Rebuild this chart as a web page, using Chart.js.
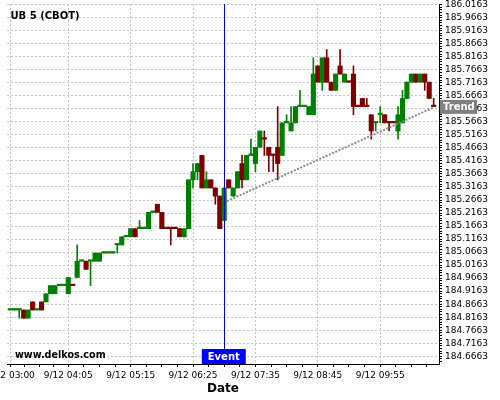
<!DOCTYPE html>
<html>
<head>
<meta charset="utf-8">
<script src="https://cdn.jsdelivr.net/npm/chart.js@4.4.1/dist/chart.umd.min.js"></script>
<style>
  html, body { margin: 0; padding: 0; background: #fff; }
  canvas { display: block; }
</style>
</head>
<body>
<canvas id="chart" width="500" height="400"></canvas>
<script>
// 5 minute bars of UB, bar number counted from 9/12 03:00
const openPrices = [
  184.8438, 184.8438, 184.8438, 184.8438, 184.8125, 184.875, 184.8438, 184.875, 184.875, 184.9063, 184.9063, 184.9375,
  184.9375, 184.9063, 184.9375, 184.9688, 185.0313, 185.0313, 185.0313, 185.0313, 185.0313, 185.0625, 185.0625, 185.0625,
  185.0938, 185.0938, 185.125, 185.125, 185.1563, 185.1563, 185.1563, 185.1563, 185.2188, 185.25, 185.2188, 185.1563,
  185.1563, 185.1563, 185.1563, 185.125, 185.1563, 185.3438, 185.375, 185.4375, 185.3125, 185.3438, 185.3125, 185.2813,
  185.1875, 185.3438, 185.2813, 185.3125, 185.4063, 185.3438, 185.4375, 185.4063, 185.4688, 185.5, 185.4688, 185.4375,
  185.4688, 185.4375, 185.5625, 185.5313, 185.5625, 185.625, 185.625, 185.5938, 185.5938, 185.7813, 185.7188, 185.8125,
  185.7188, 185.6875, 185.7813, 185.7188, 185.7188, 185.75, 185.625, 185.6563, 185.625, 185.5938, 185.5625, 185.5938,
  185.5938, 185.5625, 185.5625, 185.5313, 185.5625, 185.6563, 185.7188, 185.75, 185.7188, 185.75, 185.7188, 185.625
];
const highPrices = [
  184.8438, 184.8438, 184.8438, 184.8438, 184.8438, 184.875, 184.8438, 184.875, 184.9063, 184.9375, 184.9375, 184.9375,
  184.9375, 184.9688, 184.9375, 185.0938, 185.0313, 185.0313, 185.0313, 185.0625, 185.0625, 185.0625, 185.0625, 185.0625,
  185.0938, 185.125, 185.125, 185.1563, 185.1563, 185.1875, 185.1563, 185.2188, 185.2188, 185.25, 185.2188, 185.1563,
  185.1563, 185.1563, 185.1563, 185.1563, 185.3438, 185.4063, 185.4063, 185.4375, 185.375, 185.3438, 185.3125, 185.2813,
  185.3125, 185.3438, 185.3125, 185.375, 185.4375, 185.4375, 185.5, 185.4688, 185.5313, 185.5313, 185.4688, 185.4375,
  185.625, 185.5625, 185.5938, 185.625, 185.625, 185.6875, 185.625, 185.625, 185.8125, 185.7813, 185.8125, 185.8438,
  185.7188, 185.75, 185.8438, 185.75, 185.7188, 185.7813, 185.625, 185.6563, 185.6563, 185.5938, 185.5625, 185.625,
  185.5938, 185.5625, 185.5625, 185.625, 185.6875, 185.7188, 185.75, 185.75, 185.75, 185.75, 185.7188, 185.6563
];
const lowPrices = [
  184.8438, 184.8438, 184.8125, 184.8125, 184.8125, 184.8438, 184.8438, 184.8438, 184.875, 184.9063, 184.9063, 184.9375,
  184.9375, 184.9063, 184.9375, 184.9688, 185.0313, 185.0, 184.9375, 185.0313, 185.0313, 185.0625, 185.0625, 185.0625,
  185.0625, 185.0938, 185.125, 185.125, 185.125, 185.1563, 185.1563, 185.1563, 185.2188, 185.2188, 185.1563, 185.1563,
  185.0938, 185.1563, 185.125, 185.125, 185.1563, 185.3125, 185.3438, 185.3125, 185.3125, 185.3125, 185.25, 185.1563,
  185.1875, 185.3125, 185.2813, 185.3125, 185.3125, 185.3438, 185.4375, 185.375, 185.4688, 185.4375, 185.375, 185.375,
  185.3438, 185.4375, 185.5625, 185.5313, 185.5625, 185.625, 185.625, 185.5938, 185.5938, 185.7188, 185.6875, 185.7188,
  185.6875, 185.6875, 185.75, 185.7188, 185.7188, 185.5938, 185.625, 185.625, 185.625, 185.5, 185.5313, 185.5625,
  185.5625, 185.5313, 185.5625, 185.5, 185.5625, 185.6563, 185.7188, 185.7188, 185.7188, 185.6875, 185.6563, 185.625
];
const closePrices = [
  184.8438, 184.8438, 184.8438, 184.8125, 184.8438, 184.8438, 184.8438, 184.8438, 184.9063, 184.9375, 184.9375, 184.9375,
  184.9375, 184.9688, 184.9375, 185.0313, 185.0313, 185.0, 185.0313, 185.0625, 185.0625, 185.0625, 185.0625, 185.0625,
  185.0938, 185.125, 185.125, 185.1563, 185.125, 185.1563, 185.1563, 185.2188, 185.2188, 185.2188, 185.1563, 185.1563,
  185.1563, 185.1563, 185.125, 185.1563, 185.3438, 185.375, 185.4063, 185.3125, 185.3438, 185.3125, 185.2813, 185.1563,
  185.3125, 185.3125, 185.3125, 185.375, 185.3438, 185.4375, 185.4375, 185.4688, 185.5313, 185.5, 185.4375, 185.4375,
  185.4063, 185.5625, 185.5625, 185.5625, 185.625, 185.625, 185.625, 185.625, 185.75, 185.7188, 185.8125, 185.7188,
  185.6875, 185.75, 185.75, 185.75, 185.7188, 185.625, 185.625, 185.625, 185.625, 185.5313, 185.5625, 185.5938,
  185.5625, 185.5625, 185.5625, 185.5938, 185.6563, 185.7188, 185.75, 185.7188, 185.75, 185.7188, 185.6563, 185.625
];
// bars with open == close that are painted red
const flatDownBars = [14, 35, 36, 37, 57, 59, 76, 78, 80, 85, 86, 95];

const xTickPos = [0, 13, 27, 41, 55, 69, 83];
const xTickLabels = ['9/12 03:00', '9/12 04:05', '9/12 05:15', '9/12 06:25', '9/12 07:35', '9/12 08:45', '9/12 09:55'];
const yTickLabels = [
  '184.6663', '184.7163', '184.7663', '184.8163', '184.8663', '184.9163', '184.9663', '185.0163', '185.0663', '185.1163',
  '185.1663', '185.2163', '185.2663', '185.3163', '185.3663', '185.4163', '185.4663', '185.5163', '185.5663', '185.6163',
  '185.6663', '185.7163', '185.7663', '185.8163', '185.8663', '185.9163', '185.9663', '186.0163'
];

const eventBar = 47.9;
const trendLine = [{ x: 48.6, y: 185.262 }, { x: 95, y: 185.622 }];

const X_MIN = -0.75, X_MAX = 96.2;
const Y_MIN = 184.6365, Y_MAX = 186.019;
const GREEN = '#008000';
const RED = '#800000';
const GRID = '#c4c4c4';
const FONT = 'DejaVu Sans';

const barColors = openPrices.map((o, i) => {
	if (closePrices[i] > o) return GREEN;
	if (closePrices[i] < o) return RED;
	return flatDownBars.includes(i) ? RED : GREEN;
});

// major ticks carry a label, minor ones split each gap in four
const xTicks = [];
xTickPos.forEach((p, k) => {
	xTicks.push({ value: p, lbl: xTickLabels[k] });
	const next = k < xTickPos.length - 1 ? xTickPos[k + 1] : p + 14;
	const step = (next - p) / 4;
	for (let m = 1; m < 4; m++) {
		if (p + step * m <= X_MAX) xTicks.push({ value: p + step * m, lbl: '' });
	}
});

const yTicks = [];
const yBase = parseFloat(yTickLabels[0]);
for (let k = -2; k <= (yTickLabels.length - 1) * 5; k++) {
	const v = yBase + k * 0.01;
	if (v < Y_MIN || v > Y_MAX) continue;
	yTicks.push({ value: v, lbl: k % 5 === 0 ? yTickLabels[k / 5] : '' });
}

const gridColor = c => (c.tick && c.tick.lbl ? GRID : 'rgba(0,0,0,0)');

// labels are allowed to run off the canvas, like in the original
const noLabelPadding = s => {
	s.paddingLeft = 0;
	s.paddingRight = 0;
	s.paddingTop = 0;
	s.paddingBottom = 0;
};

const overlay = {
	id: 'overlay',
	afterDatasetsDraw(chart) {
		const { ctx, chartArea: a, scales: { x } } = chart;
		const ex = Math.round(x.getPixelForValue(eventBar)) + 0.5;
		ctx.save();
		ctx.strokeStyle = '#0000e0';
		ctx.lineWidth = 1;
		ctx.beginPath();
		ctx.moveTo(ex, a.top);
		ctx.lineTo(ex, a.bottom);
		ctx.stroke();
		ctx.restore();
	},
	afterDraw(chart) {
		const { ctx, chartArea: a, scales: { x, y } } = chart;
		ctx.save();

		// event flag
		const ex = x.getPixelForValue(eventBar);
		ctx.fillStyle = '#0000ff';
		ctx.fillRect(ex - 22, a.bottom - 15, 44, 15);
		ctx.fillStyle = '#fff';
		ctx.font = 'bold 10px ' + FONT;
		ctx.textAlign = 'center';
		ctx.textBaseline = 'middle';
		ctx.fillText('Event', ex, a.bottom - 7);

		// trend flag on the price axis
		const ty = y.getPixelForValue(trendLine[1].y);
		ctx.fillStyle = '#808080';
		ctx.fillRect(a.right + 1, ty - 7.5, 37, 14);
		ctx.fillStyle = '#fff';
		ctx.textAlign = 'left';
		ctx.fillText('Trend', a.right + 4, ty);

		ctx.fillStyle = '#000';
		ctx.textBaseline = 'alphabetic';
		ctx.font = 'bold 10px ' + FONT;
		ctx.fillText('UB 5 (CBOT)', 10.5, 19);
		ctx.font = 'bold 9.6px ' + FONT;
		ctx.fillText('www.delkos.com', 15, 357.5);
		ctx.restore();
	}
};

Chart.defaults.font.family = FONT;

const bars = openPrices.map((o, i) => i);

new Chart(document.getElementById('chart').getContext('2d'), {
	type: 'bar',
	data: {
		datasets: [
			{
				type: 'line',
				data: trendLine,
				borderColor: '#8a8a8a',
				borderWidth: 2,
				borderDash: [2, 1.5],
				pointRadius: 0,
				fill: false,
				order: -1
			},
			{
				// bodies
				data: bars.map(i => ({ x: i, y: [openPrices[i], closePrices[i]] })),
				backgroundColor: barColors,
				borderWidth: 0,
				grouped: false,
				barPercentage: 1,
				categoryPercentage: 1,
				minBarLength: 1.5,
				order: 0
			},
			{
				// wicks
				data: bars.map(i => ({ x: i, y: [lowPrices[i], highPrices[i]] })),
				backgroundColor: barColors,
				borderWidth: 0,
				grouped: false,
				barThickness: 1,
				order: 1
			}
		]
	},
	options: {
		responsive: false,
		animation: false,
		devicePixelRatio: 1,
		layout: { padding: { left: 7, top: 4, right: 0, bottom: 0 }, autoPadding: false },
		plugins: { legend: { display: false }, tooltip: { enabled: false } },
		scales: {
			x: {
				type: 'linear',
				position: 'bottom',
				offset: false,
				min: X_MIN,
				max: X_MAX,
				afterBuildTicks: s => { s.ticks = xTicks.map(t => ({ ...t })); },
				afterFit: s => { s.height = 36; noLabelPadding(s); },
				ticks: {
					autoSkip: false,
					maxRotation: 0,
					minRotation: 0,
					padding: 3,
					color: '#000',
					font: { size: 9 },
					callback: (v, i, ticks) => ticks[i].lbl
				},
				grid: { offset: false, color: gridColor, tickColor: '#000', tickLength: 3, lineWidth: 1 },
				border: { display: true, color: '#000', width: 1, dash: [2, 2] },
				title: {
					display: true,
					text: 'Date',
					color: '#000',
					font: { size: 12, weight: 'bold' },
					padding: { top: 0, bottom: 4 }
				}
			},
			y: {
				type: 'linear',
				position: 'right',
				min: Y_MIN,
				max: Y_MAX,
				afterBuildTicks: s => { s.ticks = yTicks.map(t => ({ ...t })); },
				afterFit: s => { s.width = 61; noLabelPadding(s); },
				ticks: {
					autoSkip: false,
					padding: 3,
					color: '#000',
					font: { size: 9 },
					callback: (v, i, ticks) => ticks[i].lbl
				},
				grid: { color: gridColor, tickColor: '#000', tickLength: 3, lineWidth: 1 },
				border: { display: true, color: '#000', width: 1, dash: [2, 2] }
			}
		}
	},
	plugins: [overlay]
});
</script>
</body>
</html>
